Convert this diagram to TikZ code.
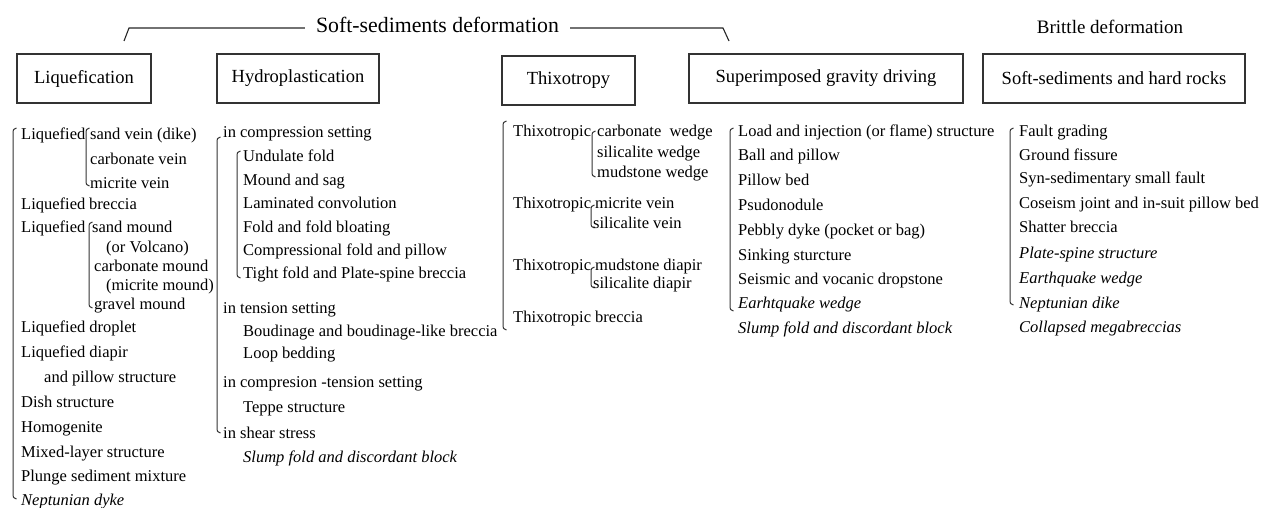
\documentclass[tikz,border=0pt]{standalone}
\usepackage{fontspec}
\setmainfont{Liberation Serif}
\newcommand\itm[4]{\node[item] (#1) at (#2,#3+5.5) {#4};}
\newcommand\iti[4]{\node[item,font=\fontsize{16.5}{20}\selectfont\itshape] (#1) at (#2,#3+5.5) {#4};}
\newcommand\brkt[3]{\draw[brk] (#1+3.5,#2) .. controls (#1,#2+1.5) .. (#1,#2+7) -- (#1,#3-7) .. controls (#1,#3-1.5) .. (#1+3.5,#3);}
\begin{document}
\begin{tikzpicture}[x=1pt,y=-1pt,
  ink/.style={draw=black!85, line width=1.1pt},
  box/.style={draw=black!80, line width=1.3pt, minimum height=49pt, inner sep=0pt, font=\fontsize{18.5}{22}\selectfont},
  item/.style={anchor=base west, inner sep=0pt, font=\fontsize{16.5}{20}\selectfont},
  brk/.style={draw=black!80, line width=1pt}]
\useasboundingbox (0,0) rectangle (1267,508);
% headings
\node[font=\fontsize{21.8}{26}\selectfont, inner sep=0pt] (soft) at (437.5,25) {Soft-sediments deformation};
\coordinate (sl1) at (129,28); \coordinate (sl0) at (124,41);
\coordinate (sr1) at (723,28); \coordinate (sr0) at (729,41);
\draw[ink] ([xshift=-11pt]soft.west |- sl1) -- (sl1) -- (sl0);
\draw[ink] ([xshift=11pt]soft.east |- sr1) -- (sr1) -- (sr0);
\node[font=\fontsize{19}{22}\selectfont, inner sep=0pt] (brit) at (1110,27) {Brittle deformation};
% boxes
\node[box, minimum width=134pt] (liq) at (84,78.5) {Liquefication};
\node[box, minimum width=162pt] (hyd) at (298,78.5) {Hydroplastication};
\node[box, minimum width=133pt] (thx) at (568.5,80.5) {Thixotropy};
\node[box, minimum width=274pt] (sup) at (826,78.5) {Superimposed gravity driving};
\node[box, minimum width=262pt] (shr) at (1114,78.5) {Soft-sediments and hard rocks};
% Liquefication column
\brkt{13}{128}{499}
\itm{l1}{21}{134}{Liquefied}
\brkt{86}{128}{186}
\itm{l1a}{90}{134}{sand vein (dike)}
\itm{l1b}{90}{159}{carbonate vein}
\itm{l1c}{90}{183}{micrite vein}
\itm{l2}{21}{204}{Liquefied}
\itm{l2a}{89}{204}{breccia}
\itm{l3}{21}{227}{Liquefied}
\brkt{89}{222}{308}
\itm{l3a}{92}{227}{sand mound}
\itm{l3b}{106}{247}{(or Volcano)}
\itm{l3c}{94}{266}{carbonate mound}
\itm{l3d}{106}{285}{(micrite mound)}
\itm{l3e}{94}{304}{gravel mound}
\itm{l4}{21}{327}{Liquefied droplet}
\itm{l5}{21}{352}{Liquefied diapir}
\itm{l5a}{44}{377}{and pillow structure}
\itm{l6}{21}{402}{Dish structure}
\itm{l7}{21}{427}{Homogenite}
\itm{l8}{21}{452}{Mixed-layer structure}
\itm{l9}{21}{476}{Plunge sediment mixture}
\iti{l10}{21}{500}{Neptunian dyke}
% Hydroplastication column
\brkt{217}{137}{433}
\itm{h1}{223}{132}{in compression setting}
\brkt{237}{151}{278}
\itm{h1a}{243}{156}{Undulate fold}
\itm{h1b}{243}{180}{Mound and sag}
\itm{h1c}{243}{203}{Laminated convolution}
\itm{h1d}{243}{227}{Fold and fold bloating}
\itm{h1e}{243}{250}{Compressional fold and pillow}
\itm{h1f}{243}{273}{Tight fold and Plate-spine breccia}
\itm{h2}{223}{308}{in tension setting}
\itm{h2a}{243}{331}{Boudinage and boudinage-like breccia}
\itm{h2b}{243}{353}{Loop bedding}
\itm{h3}{223}{382}{in compresion -tension setting}
\itm{h3a}{243}{407}{Teppe structure}
\itm{h4}{223}{433}{in shear stress}
\iti{h4a}{243}{457}{Slump fold and discordant block}
% Thixotropy column
\brkt{503}{121}{330}
\itm{t1}{513}{131}{Thixotropic}
\brkt{592}{131}{177}
\itm{t1a}{597}{131}{carbonate\ \ wedge}
\itm{t1b}{597}{152}{silicalite wedge}
\itm{t1c}{597}{172}{mudstone wedge}
\itm{t2}{513}{203}{Thixotropic}
\brkt{591}{205}{228}
\itm{t2a}{595}{203}{micrite vein}
\itm{t2b}{593}{223}{silicalite vein}
\itm{t3}{513}{265}{Thixotropic}
\brkt{591}{267}{288}
\itm{t3a}{595}{265}{mudstone diapir}
\itm{t3b}{593}{283}{silicalite diapir}
\itm{t4}{513}{317}{Thixotropic}
\itm{t4a}{595}{317}{breccia}
% Superimposed gravity driving column
\brkt{730}{128}{311}
\itm{s1}{738}{131}{Load and injection (or flame) structure}
\itm{s2}{738}{155}{Ball and pillow}
\itm{s3}{738}{180}{Pillow bed}
\itm{s4}{738}{205}{Psudonodule}
\itm{s5}{738}{230}{Pebbly dyke (pocket or bag)}
\itm{s6}{738}{255}{Sinking sturcture}
\itm{s7}{738}{279}{Seismic and vocanic dropstone}
\iti{s8}{738}{303}{Earhtquake wedge}
\iti{s9}{738}{328}{Slump fold and discordant block}
% Soft-sediments and hard rocks column
\brkt{1010}{128}{305}
\itm{b1}{1019}{131}{Fault grading}
\itm{b2}{1019}{155}{Ground fissure}
\itm{b3}{1019}{178}{Syn-sedimentary small fault}
\itm{b4}{1019}{203}{Coseism joint and in-suit pillow bed}
\itm{b5}{1019}{227}{Shatter breccia}
\iti{b6}{1019}{253}{Plate-spine structure}
\iti{b7}{1019}{278}{Earthquake wedge}
\iti{b8}{1019}{303}{Neptunian dike}
\iti{b9}{1019}{327}{Collapsed megabreccias}
\end{tikzpicture}
\end{document}
